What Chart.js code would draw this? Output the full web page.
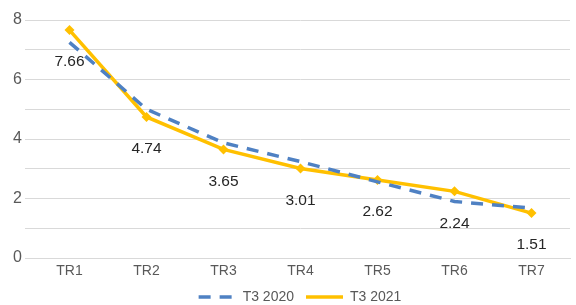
<!DOCTYPE html>
<html>
<head>
<meta charset="utf-8">
<script src="https://cdn.jsdelivr.net/npm/chart.js@4/dist/chart.umd.min.js"></script>
<style>
  body { margin: 0; background: #fff; }
  canvas { display: block; }
</style>
</head>
<body>
<canvas id="chart1" width="576" height="305"></canvas>
<script>
// chart data
var categories = ["TR1", "TR2", "TR3", "TR4", "TR5", "TR6", "TR7"];
var series2020 = [7.25, 5.0, 3.87, 3.24, 2.56, 1.9, 1.68];
var series2021 = [7.66, 4.74, 3.65, 3.01, 2.62, 2.24, 1.51];
var labels2021 = ["7.66", "4.74", "3.65", "3.01", "2.62", "2.24", "1.51"];

Chart.defaults.font.family = "'Liberation Sans', Arial, sans-serif";

// draws the value labels under the 2021 points
var valueLabels = {
	id: "valueLabels",
	afterDatasetsDraw: function(chart) {
		var ctx = chart.ctx;
		var meta = chart.getDatasetMeta(1);
		ctx.save();
		ctx.font = "15.5px 'Liberation Sans', Arial, sans-serif";
		ctx.fillStyle = "#262626";
		ctx.textAlign = "center";
		ctx.textBaseline = "middle";
		for (var i = 0; i < meta.data.length; i++) {
			var pt = meta.data[i];
			ctx.fillText(labels2021[i], pt.x, pt.y + 32);
		}
		ctx.restore();
	}
};

// legend is centred under the plot area, not the whole canvas
var legendShift = {
	id: "legendShift",
	afterLayout: function(chart) {
		chart.legend.left += 15;
		chart.legend.right += 15;
	}
};

var ctx = document.getElementById("chart1");

var chart = new Chart(ctx, {
	type: "line",
	data: {
		labels: categories,
		datasets: [
			{
				label: "T3 2020",
				data: series2020,
				borderColor: "#4f81c3",
				backgroundColor: "#4f81c3",
				borderWidth: 3.5,
				borderDash: [12, 9],
				pointRadius: 0,
				tension: 0
			},
			{
				label: "T3 2021",
				data: series2021,
				borderColor: "#ffc000",
				backgroundColor: "#ffc000",
				borderWidth: 3.5,
				pointStyle: "rectRot",
				pointRadius: 5,
				pointBorderWidth: 0,
				tension: 0
			}
		]
	},
	options: {
		responsive: false,
		animation: false,
		layout: { padding: { top: 20, right: 6, left: 0, bottom: -9 } },
		plugins: {
			legend: {
				position: "bottom",
				labels: {
					usePointStyle: true,
					pointStyle: "line",
					pointStyleWidth: 37,
					padding: 12,
					color: "#595959",
					font: { size: 14 },
					//line samples, same width and dash as the series
					generateLabels: function(chart) {
						var items = Chart.defaults.plugins.legend.labels.generateLabels(chart);
						items.forEach(function(item, i) {
							var ds = chart.data.datasets[i];
							item.strokeStyle = ds.borderColor;
							item.lineWidth = ds.borderWidth;
							item.lineDash = ds.borderDash || [];
							item.pointStyle = "line";
						});
						return items;
					}
				}
			},
			tooltip: { enabled: false }
		},
		scales: {
			x: {
				offset: true,
				afterFit: function(scale) { scale.height = 20; },
				grid: { display: false },
				border: { color: "#d9d9d9" },
				ticks: { color: "#595959", font: { size: 14 }, padding: -3 }
			},
			y: {
				min: 0,
				max: 8,
				afterFit: function(scale) { scale.width = 31; },
				grid: { color: "#d9d9d9", tickLength: 6 },
				border: { display: false },
				ticks: {
					stepSize: 1,
					padding: 3,
					color: "#595959",
					font: { size: 16 },
					callback: function(v) { return v % 2 === 0 ? v : ""; }
				}
			}
		}
	},
	plugins: [valueLabels, legendShift]
});
</script>
</body>
</html>
